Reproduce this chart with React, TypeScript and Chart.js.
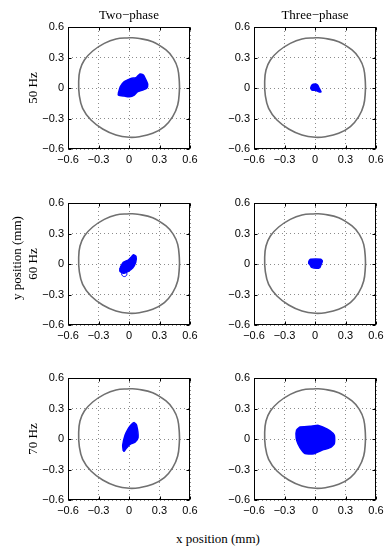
import React, { useEffect, useRef } from "react";
import { Chart, registerables } from "chart.js";

Chart.register(...registerables);

// ---- Data ----
const TICK_VALUES = [-0.6, -0.3, 0, 0.3, 0.6];
const TICK_LABELS = ["\u22120.6", "\u22120.3", "0", "0.3", "0.6"];
const COLUMN_TITLES = ["Two\u2212phase", "Three\u2212phase"];
const ROW_LABELS = ["50 Hz", "60 Hz", "70 Hz"];
const X_TITLE = "x position (mm)";
const Y_TITLE = "y position (mm)";

// bearing clearance boundary (mm)
const CLEARANCE_X = [0.003, 0.085, 0.233, 0.364, 0.436, 0.479, 0.495, 0.495, 0.479, 0.43, 0.348, 0.233, 0.102, 0.003, -0.128, -0.259, -0.374, -0.456, -0.489, -0.495, -0.482, -0.439, -0.357, -0.243, -0.128, 0.003];
const CLEARANCE_Y = [0.495, 0.489, 0.456, 0.374, 0.292, 0.193, 0.062, -0.036, -0.167, -0.282, -0.38, -0.446, -0.479, -0.485, -0.462, -0.403, -0.315, -0.2, -0.069, 0.062, 0.177, 0.275, 0.364, 0.439, 0.482, 0.495];

// rotor orbits (outline of the traced region, mm)
const TWO_50_X = [-0.105, -0.085, -0.046, 0.02, 0.069, 0.108, 0.141, 0.167, 0.184, 0.174, 0.134, 0.085, 0.052, 0.003, -0.046, -0.105, -0.105];
const TWO_50_Y = [-0.052, 0.013, 0.062, 0.095, 0.102, 0.138, 0.128, 0.079, 0.036, -0.003, -0.02, -0.036, -0.069, -0.085, -0.079, -0.069, -0.052];

const THREE_50_X = [-0.043, -0.03, 0.0, 0.025, 0.04, 0.059, 0.045, 0.01, -0.03, -0.043];
const THREE_50_Y = [0.0, 0.03, 0.039, 0.03, 0.0, -0.039, -0.04, -0.025, -0.02, 0.0];

const TWO_60_X = [-0.089, -0.056, -0.007, 0.026, 0.043, 0.069, 0.066, 0.036, -0.007, -0.049, -0.089, -0.089];
const TWO_60_Y = [-0.039, 0.016, 0.039, 0.072, 0.092, 0.075, 0.016, -0.039, -0.072, -0.092, -0.072, -0.039];
const TWO_60_LOOP_X = [-0.046, -0.028, -0.02, -0.028, -0.046, -0.064, -0.072, -0.064, -0.046];
const TWO_60_LOOP_Y = [-0.072, -0.08, -0.098, -0.116, -0.124, -0.116, -0.098, -0.08, -0.072];

const THREE_60_X = [-0.059, -0.043, 0.056, 0.072, 0.059, 0.049, 0.016, -0.033, -0.049, -0.062, -0.059];
const THREE_60_Y = [0.033, 0.046, 0.046, 0.03, -0.007, -0.033, -0.043, -0.033, -0.007, 0.007, 0.033];

const TWO_70_X = [-0.056, -0.062, -0.039, -0.007, 0.026, 0.052, 0.075, 0.089, 0.059, 0.01, -0.03, -0.049, -0.056];
const TWO_70_Y = [-0.118, -0.062, 0.036, 0.102, 0.144, 0.161, 0.134, 0.013, -0.03, -0.052, -0.095, -0.121, -0.118];

const THREE_70_X = [-0.18, -0.148, -0.049, 0.033, 0.075, 0.148, 0.19, 0.19, 0.148, 0.066, -0.01, -0.098, -0.148, -0.18, -0.187, -0.18];
const THREE_70_Y = [0.092, 0.118, 0.125, 0.134, 0.118, 0.079, 0.036, -0.046, -0.085, -0.111, -0.144, -0.144, -0.085, -0.013, 0.052, 0.092];

// ---- Styling / layout ----
const PLOT = 122;
const PAD_L = 40;
const PAD_T = 8;
const PAD_R = 8;
const PAD_B = 22;
const COL_LEFT = [68, 254];
const ROW_TOP = [27, 203, 378];
const BLUE = "#0000ff";
const GRAY = "#707070";
const SANS = "'Liberation Sans', Arial, Helvetica, sans-serif";
const SERIF = "'Liberation Serif', 'Times New Roman', serif";

const pts = (xs: number[], ys: number[]) => xs.map((x, i) => ({ x, y: ys[i] }));

type Orbit = { xs: number[]; ys: number[]; fill: boolean };

const PANELS: { row: number; col: number; orbits: Orbit[] }[] = [
  { row: 0, col: 0, orbits: [{ xs: TWO_50_X, ys: TWO_50_Y, fill: true }] },
  { row: 0, col: 1, orbits: [{ xs: THREE_50_X, ys: THREE_50_Y, fill: true }] },
  {
    row: 1,
    col: 0,
    orbits: [
      { xs: TWO_60_X, ys: TWO_60_Y, fill: true },
      { xs: TWO_60_LOOP_X, ys: TWO_60_LOOP_Y, fill: false },
    ],
  },
  { row: 1, col: 1, orbits: [{ xs: THREE_60_X, ys: THREE_60_Y, fill: true }] },
  { row: 2, col: 0, orbits: [{ xs: TWO_70_X, ys: TWO_70_Y, fill: true }] },
  { row: 2, col: 1, orbits: [{ xs: THREE_70_X, ys: THREE_70_Y, fill: true }] },
];

const framePlugin = {
  id: "frame",
  afterDatasetsDraw(chart: any) {
    const { ctx, chartArea: a, scales } = chart;
    const L = Math.round(a.left) + 0.5;
    const T = Math.round(a.top) + 0.5;
    const R = Math.round(a.right) - 0.5;
    const B = Math.round(a.bottom) - 0.5;
    ctx.save();
    ctx.strokeStyle = "#000";
    ctx.lineWidth = 1;
    ctx.strokeRect(L, T, R - L, B - T);
    ctx.beginPath();
    for (const v of TICK_VALUES) {
      const x = Math.round(scales.x.getPixelForValue(v)) + 0.5;
      ctx.moveTo(x, B);
      ctx.lineTo(x, B - 3);
      ctx.moveTo(x, T);
      ctx.lineTo(x, T + 3);
      const y = Math.round(scales.y.getPixelForValue(v)) + 0.5;
      ctx.moveTo(L, y);
      ctx.lineTo(L + 3, y);
      ctx.moveTo(R, y);
      ctx.lineTo(R - 3, y);
    }
    ctx.stroke();
    ctx.restore();
  },
};

function axis(isX: boolean) {
  return {
    type: "linear" as const,
    min: -0.6,
    max: 0.6,
    afterBuildTicks: (s: any) => {
      s.ticks = TICK_VALUES.map((v) => ({ value: v }));
    },
    afterFit: (s: any) => {
      if (isX) {
        s.height = PAD_B;
        s.paddingLeft = 0;
        s.paddingRight = 0;
      } else {
        s.width = PAD_L;
        s.paddingTop = 0;
        s.paddingBottom = 0;
      }
    },
    grid: {
      color: "rgba(0,0,0,0.45)",
      lineWidth: 1,
      drawTicks: false,
    },
    border: { display: false, dash: [1, 3] },
    ticks: {
      autoSkip: false,
      maxRotation: 0,
      padding: 4,
      color: "#000",
      font: { family: SANS, size: 11 },
      callback: (_v: any, i: number) => TICK_LABELS[i],
    },
  };
}

function Panel({ orbits }: { orbits: Orbit[] }) {
  const ref = useRef<HTMLCanvasElement>(null);
  useEffect(() => {
    if (!ref.current) return;
    const datasets: any[] = [
      {
        data: pts(CLEARANCE_X, CLEARANCE_Y),
        showLine: true,
        borderColor: GRAY,
        borderWidth: 1.6,
        pointRadius: 0,
        tension: 0.4,
        fill: false,
      },
    ];
    for (const o of orbits) {
      datasets.push({
        data: pts(o.xs, o.ys),
        showLine: true,
        borderColor: BLUE,
        backgroundColor: BLUE,
        borderWidth: o.fill ? 1.5 : 1,
        pointRadius: 0,
        tension: o.fill ? 0.2 : 0.4,
        fill: o.fill ? "shape" : false,
      });
    }
    const chart = new Chart(ref.current, {
      type: "scatter",
      data: { datasets },
      options: {
        animation: false,
        responsive: false,
        events: [],
        layout: { padding: { left: 0, top: PAD_T, right: PAD_R, bottom: 0 } },
        plugins: { legend: { display: false }, tooltip: { enabled: false } },
        scales: { x: axis(true), y: axis(false) },
      } as any,
      plugins: [framePlugin],
    });
    return () => chart.destroy();
  }, [orbits]);
  return (
    <canvas
      ref={ref}
      width={PLOT + PAD_L + PAD_R}
      height={PLOT + PAD_T + PAD_B}
      style={{ display: "block", width: PLOT + PAD_L + PAD_R, height: PLOT + PAD_T + PAD_B }}
    />
  );
}

const textBase: React.CSSProperties = {
  position: "absolute",
  fontFamily: SERIF,
  fontSize: 13,
  color: "#000",
  whiteSpace: "nowrap",
  lineHeight: "1",
};

export default function App() {
  return (
    <div style={{ position: "absolute", left: 0, top: 0, width: 391, height: 550, background: "#fff", overflow: "hidden" }}>
      {PANELS.map((p, i) => (
        <div
          key={i}
          style={{ position: "absolute", left: COL_LEFT[p.col] - PAD_L, top: ROW_TOP[p.row] - PAD_T }}
        >
          <Panel orbits={p.orbits} />
        </div>
      ))}
      {COLUMN_TITLES.map((t, c) => (
        <div
          key={t}
          style={{ ...textBase, left: COL_LEFT[c] + PLOT / 2, top: 14, transform: "translate(-50%,-50%)" }}
        >
          {t}
        </div>
      ))}
      {ROW_LABELS.map((t, r) => (
        <div
          key={t}
          style={{ ...textBase, left: 32, top: ROW_TOP[r] + PLOT / 2, transform: "translate(-50%,-50%) rotate(-90deg)" }}
        >
          {t}
        </div>
      ))}
      <div style={{ ...textBase, left: 16, top: 258, transform: "translate(-50%,-50%) rotate(-90deg)" }}>{Y_TITLE}</div>
      <div style={{ ...textBase, left: 218, top: 538, transform: "translate(-50%,-50%)" }}>{X_TITLE}</div>
    </div>
  );
}
